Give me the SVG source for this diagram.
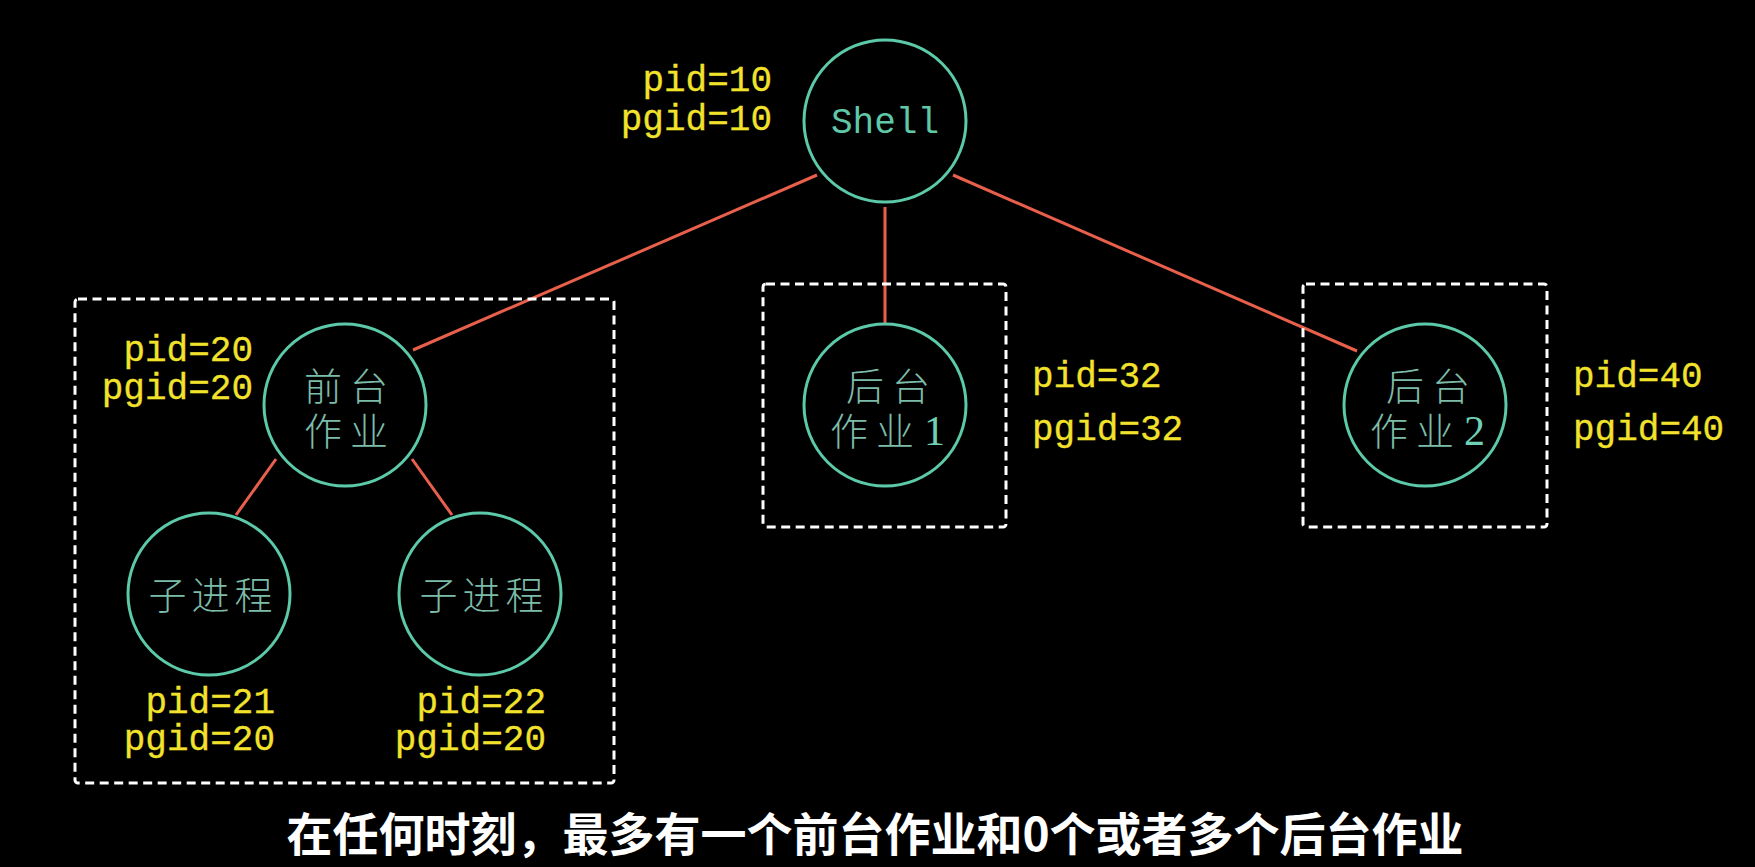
<svg xmlns="http://www.w3.org/2000/svg" width="1755" height="867" viewBox="0 0 1755 867">
<style>
.bg{fill:#000}
.node{fill:none;stroke:#5cc9a9;stroke-width:3}
.box{fill:none;stroke:#fff;stroke-width:3;stroke-dasharray:9 5.5}
.edge{stroke:#e8604c;stroke-width:3;fill:none}
.lbl{font-family:"Liberation Mono","DejaVu Sans Mono",monospace;font-size:36px;fill:#f2e22c;stroke:#f2e22c;stroke-width:0.3}
.en{font-family:"Liberation Mono","DejaVu Sans Mono",monospace;font-size:36px;fill:#5fc8a8}
.cn{font-family:"Noto Sans CJK SC",sans-serif;font-weight:300;font-size:38px;fill:#7cbca8}
.dg{font-family:"Liberation Serif",serif;font-size:42px;fill:#6fd0b4}
.cap{font-family:"Noto Sans CJK SC",sans-serif;font-weight:700;font-size:46px;fill:#fff}
</style>
<rect class="bg" x="0" y="0" width="1755" height="867"/>
<g id="connectors">
<line class="edge" x1="817" y1="175" x2="413" y2="350"/>
<line class="edge" x1="885" y1="207" x2="885" y2="324"/>
<line class="edge" x1="953" y1="175" x2="1357" y2="351"/>
<line class="edge" x1="276" y1="459" x2="236" y2="515"/>
<line class="edge" x1="412" y1="459" x2="452" y2="515"/>
</g>
<g id="group-foreground">
<rect class="box" x="75" y="299" width="539" height="484" rx="3"/>
</g>
<g id="group-bg1">
<rect class="box" x="763" y="284" width="243" height="243" rx="3"/>
</g>
<g id="group-bg2">
<rect class="box" x="1303" y="284" width="244" height="243" rx="3"/>
</g>
<g id="shell">
<circle class="node" cx="885" cy="121" r="81"/>
<text class="en" x="885" y="133" text-anchor="middle">Shell</text>
<text class="lbl" x="772" y="91" text-anchor="end">pid=10</text>
<text class="lbl" x="772" y="130" text-anchor="end">pgid=10</text>
</g>
<g id="fg-job">
<circle class="node" cx="345" cy="405" r="81"/>
<text class="cn" letter-spacing="8"><tspan x="304" y="400">前台</tspan><tspan x="304" y="445">作业</tspan></text>
<text class="lbl" x="253" y="361" text-anchor="end">pid=20</text>
<text class="lbl" x="253" y="399" text-anchor="end">pgid=20</text>
</g>
<g id="child1">
<circle class="node" cx="209" cy="594" r="81"/>
<text class="cn" x="213" y="609" text-anchor="middle" font-size="40" letter-spacing="5">子进程</text>
<text class="lbl" x="275" y="713" text-anchor="end">pid=21</text>
<text class="lbl" x="275" y="750" text-anchor="end">pgid=20</text>
</g>
<g id="child2">
<circle class="node" cx="480" cy="594" r="81"/>
<text class="cn" x="484" y="609" text-anchor="middle" font-size="40" letter-spacing="5">子进程</text>
<text class="lbl" x="546" y="713" text-anchor="end">pid=22</text>
<text class="lbl" x="546" y="750" text-anchor="end">pgid=20</text>
</g>
<g id="bg-job1">
<circle class="node" cx="885" cy="405" r="81"/>
<text class="cn" letter-spacing="8"><tspan x="846" y="400">后台</tspan><tspan x="830" y="445">作业</tspan><tspan class="dg" dx="2">1</tspan></text>
<text class="lbl" x="1032" y="387">pid=32</text>
<text class="lbl" x="1032" y="440">pgid=32</text>
</g>
<g id="bg-job2">
<circle class="node" cx="1425" cy="405" r="81"/>
<text class="cn" letter-spacing="8"><tspan x="1386" y="400">后台</tspan><tspan x="1370" y="445">作业</tspan><tspan class="dg" dx="2">2</tspan></text>
<text class="lbl" x="1573" y="387">pid=40</text>
<text class="lbl" x="1573" y="440">pgid=40</text>
</g>
<g id="caption">
<text class="cap" x="875" y="851" text-anchor="middle">在任何时刻，最多有一个前台作业和0个或者多个后台作业</text>
</g>
</svg>
